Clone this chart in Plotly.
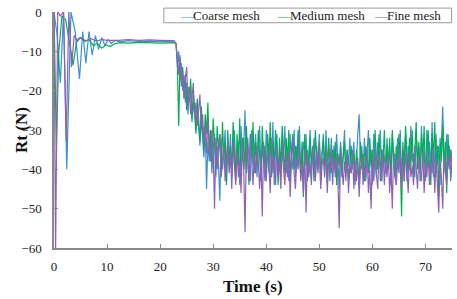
import numpy as np
import plotly.graph_objects as go

# ---- early transient (explicit samples) ----
coarse_t_early = [0, 0.6, 1.2, 1.8, 2.4, 3.2, 4.0, 4.8, 5.4, 6.0, 6.6, 7.2, 7.8, 8.4, 9.0, 9.6,
                  10.2, 10.8, 11.5, 12.5, 14, 16, 18, 20, 22.6]
coarse_v_early = [0, -6, -18, 0, -40, 0, -5, -17, -5, -13, -5, -11, -6, -9.5, -6.5, -8.5,
                  -7, -8, -7.2, -7.6, -7.3, -7.5, -7.4, -7.5, -7.6]

medium_t_early = [0, 0.45, 0.9, 1.5, 2.2, 2.9, 3.6, 4.3, 5.0, 5.8, 6.6, 7.4, 8.2, 9.0, 9.8,
                  10.6, 11.5, 12.5, 14, 16, 18, 20, 22.6]
medium_v_early = [0, -34, -10, -1, -2, -8, -13.5, -7, -6.5, -7.5, -7, -8.5, -8, -9.2, -8.4,
                  -8.8, -8, -7.8, -7.9, -7.7, -7.8, -7.9, -7.8]

fine_t_early = [0, 0.3, 0.7, 1.2, 1.8, 2.3, 2.8, 3.3, 3.8, 4.4, 5.0, 6.0, 7.0, 8.0, 9, 10,
                12, 14, 16, 18, 20, 22.6]
fine_v_early = [0, -62, 0, -1, 0, -33, 0, -14, -6, -7.5, -6.5, -7.3, -6.8, -7.4, -7, -7.2,
                -7.2, -7.0, -7.2, -7.1, -7.2, -7.3]

# ---- oscillating phase, sampled every 0.25 s from 23 s to 75 s (rows of 5 s) ----
coarse_v_late = [
    -8, -14, -10, -17, -13, -20, -16, -23, -18, -26, -21, -19, -28, -23, -26, -31, -24, -29, -34, -27,
    -32, -37, -29, -45, -33, -38, -30, -41, -35, -31, -42, -34, -39, -48, -32, -40, -36, -30, -43, -33,
    -39, -31, -42, -35, -30, -40, -37, -33, -44, -29, -38, -34, -25, -41, -32, -37, -43, -30, -39, -35,
    -31, -42, -36, -29, -40, -34, -38, -43, -30, -37, -41, -33, -39, -28, -44, -35, -31, -40, -36, -42,
    -32, -38, -29, -41, -35, -43, -31, -37, -40, -30, -42, -34, -38, -29, -41, -36, -33, -39, -31, -43,
    -35, -30, -40, -37, -32, -42, -34, -39, -31, -44, -36, -33, -41, -30, -38, -35, -43, -32, -39, -34,
    -42, -31, -38, -45, -33, -40, -36, -30, -43, -35, -39, -32, -41, -37, -33, -44, -36, -31, -26, -38,
    -34, -41, -32, -43, -36, -30, -40, -35, -44, -31, -38, -42, -33, -39, -30, -43, -35, -37, -41, -32,
    -40, -34, -43, -31, -38, -36, -44, -32, -39, -30, -42, -35, -37, -31, -43, -34, -40, -29, -38, -36,
    -42, -31, -37, -34, -41, -29, -39, -35, -43, -30, -38, -33, -40, -28, -42, -36, -31, -39, -34, -44,
    -30, -24, -37, -41, -31, -39, -34, -43, -36]

medium_v_late = [
    -8, -13, -29, -12, -18, -14, -22, -16, -25, -19, -23, -17, -27, -21, -24, -30, -22, -27, -33, -24,
    -29, -35, -26, -31, -23, -36, -30, -38, -27, -33, -40, -29, -35, -31, -42, -28, -37, -33, -44, -30,
    -38, -34, -41, -28, -36, -43, -31, -39, -27, -42, -35, -32, -40, -29, -37, -44, -31, -38, -28, -41,
    -33, -39, -30, -36, -43, -29, -38, -34, -41, -31, -37, -28, -42, -33, -39, -30, -36, -44, -32, -40,
    -29, -37, -41, -32, -38, -30, -43, -35, -31, -40, -34, -39, -30, -36, -42, -33, -47, -31, -39, -35,
    -41, -32, -38, -35, -43, -30, -37, -40, -33, -42, -36, -31, -39, -34, -44, -32, -38, -41, -35, -40,
    -33, -44, -36, -39, -34, -42, -37, -33, -41, -35, -43, -38, -34, -40, -36, -42, -35, -39, -44, -33,
    -40, -36, -43, -34, -38, -41, -32, -39, -35, -42, -30, -37, -40, -31, -43, -35, -38, -30, -41, -34,
    -39, -32, -44, -30, -37, -42, -34, -40, -31, -38, -52, -33, -43, -29, -36, -41, -32, -39, -30, -42,
    -35, -28, -40, -33, -43, -31, -38, -29, -42, -35, -30, -39, -44, -31, -37, -28, -41, -34, -47, -32,
    -38, -29, -40, -33, -46, -31, -39, -35, -37]

fine_v_late = [
    -8, -12, -16, -11, -19, -15, -22, -17, -14, -24, -19, -26, -21, -18, -27, -23, -29, -24, -21, -30,
    -26, -33, -29, -36, -27, -34, -38, -30, -35, -50, -32, -40, -36, -31, -42, -37, -34, -43, -39, -33,
    -41, -36, -45, -33, -39, -44, -35, -42, -38, -46, -32, -40, -56, -34, -37, -43, -31, -39, -44, -36,
    -41, -34, -38, -45, -37, -52, -33, -40, -43, -35, -39, -46, -32, -41, -37, -44, -34, -42, -38, -45,
    -33, -40, -44, -36, -42, -35, -47, -38, -32, -41, -45, -37, -40, -34, -43, -39, -46, -35, -51, -36,
    -42, -38, -44, -34, -40, -43, -36, -41, -33, -45, -39, -37, -42, -35, -46, -38, -40, -34, -44, -37,
    -41, -36, -43, -55, -35, -40, -44, -38, -42, -36, -46, -39, -41, -35, -45, -38, -43, -37, -47, -40,
    -36, -44, -39, -42, -35, -46, -40, -50, -37, -43, -34, -41, -45, -36, -40, -43, -35, -44, -38, -42,
    -36, -46, -39, -50, -35, -42, -44, -37, -41, -34, -45, -38, -43, -36, -40, -46, -35, -42, -39, -44,
    -34, -41, -45, -37, -40, -43, -35, -46, -38, -42, -36, -44, -39, -41, -34, -46, -37, -43, -51, -38,
    -42, -50, -36, -41, -44, -37, -40, -35, -42]

late_start, late_end = 23.0, 75.0

series_names = ["Coarse mesh", "Medium mesh", "Fine mesh"]
colors = ["#3b8fd6", "#00b050", "#8c62b5"]


def build(t_early, v_early, v_late):
    t_late = np.linspace(late_start, late_end, len(v_late))
    return list(t_early) + list(t_late), list(v_early) + list(v_late)


data = [
    build(coarse_t_early, coarse_v_early, coarse_v_late),
    build(medium_t_early, medium_v_early, medium_v_late),
    build(fine_t_early, fine_v_early, fine_v_late),
]

fig = go.Figure()
for (t, v), name, c in zip(data, series_names, colors):
    fig.add_trace(go.Scatter(x=t, y=v, mode="lines", name=name,
                             line=dict(color=c, width=1.2), showlegend=False))

FONT = "Liberation Serif"
axis_common = dict(showgrid=False, zeroline=False, showline=True, linecolor="#8a8a8a",
                   linewidth=1.5, ticks="inside", ticklen=4, tickcolor="#8a8a8a",
                   ticklabeloverflow="allow",
                   tickfont=dict(family=FONT, size=13, color="#222"))

fig.update_xaxes(range=[0, 75], tickvals=[0, 10, 20, 30, 40, 50, 60, 70],
                 ticklabelstandoff=6, **axis_common)
fig.update_yaxes(range=[-60, 0], tickvals=[0, -10, -20, -30, -40, -50, -60],
                 ticklabelstandoff=8, **axis_common)

# legend drawn as a framed box with coloured dash glyphs + labels
legend_y = 0.9855
dash_x = [0.3116, 0.5553, 0.799]
label_x = [0.344, 0.588, 0.8317]
annotations = []
for dx, lx, name, c in zip(dash_x, label_x, series_names, colors):
    annotations.append(dict(text="—", xref="paper", yref="paper", x=dx, y=legend_y,
                            xanchor="left", yanchor="middle", showarrow=False,
                            font=dict(family=FONT, size=13, color=c)))
    annotations.append(dict(text=name, xref="paper", yref="paper", x=lx, y=legend_y,
                            xanchor="left", yanchor="middle", showarrow=False,
                            font=dict(family=FONT, size=13, color="#222")))
annotations += [
    dict(text="<b>Rt (N)</b>", xref="paper", yref="paper", x=-0.083, y=0.5,
         xanchor="center", yanchor="middle", textangle=-90, showarrow=False,
         font=dict(family=FONT, size=17, color="#111")),
    dict(text="<b>Time (s)</b>", xref="paper", yref="paper", x=0.5, y=-0.165,
         xanchor="center", yanchor="middle", showarrow=False,
         font=dict(family=FONT, size=17, color="#111")),
]

fig.update_layout(
    width=457, height=299,
    margin=dict(l=54, r=5, t=6, b=51),
    paper_bgcolor="white", plot_bgcolor="white",
    font=dict(family=FONT, size=13, color="#222"),
    shapes=[dict(type="rect", xref="paper", yref="paper", x0=0.276, x1=0.999,
                 y0=0.9545, y1=1.0165, line=dict(color="#999", width=1),
                 fillcolor="white", layer="above")],
    annotations=annotations,
)

fig.write_html("out.html", config={"displayModeBar": False},
               post_script="document.body.style.margin='0px';")
